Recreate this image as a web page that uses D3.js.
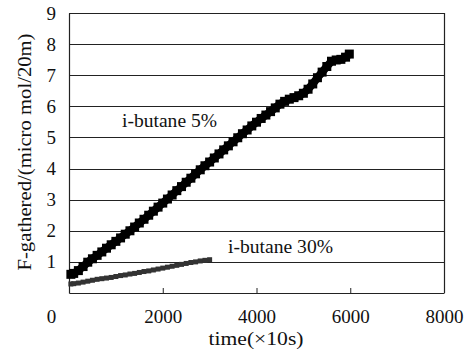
<!DOCTYPE html>
<html lang="en">
<head>
    <meta charset="UTF-8">
    <title>F-gathered vs time</title>
    <script src="https://d3js.org/d3.v7.min.js"></script>
    <style>
        body { margin: 0; background: #fff; }
        text { font-family: "Liberation Serif", "Times New Roman", serif; fill: #111; }
        .tick text { font-size: 19px; }
    </style>
</head>
<body>
    <svg id="chart"></svg>
    <script>
        // time (x10 s) and gathered values
        const time5 = [40, 100, 200, 300, 400, 500, 600, 700, 800, 900, 1000, 1100, 1200, 1300, 1400, 1500,
            1600, 1700, 1800, 1900, 2000, 2100, 2200, 2300, 2400, 2500, 2600, 2700, 2800, 2900, 3000,
            3100, 3200, 3300, 3400, 3500, 3600, 3700, 3800, 3900, 4000, 4100, 4200, 4300, 4400, 4500,
            4600, 4700, 4800, 4900, 5000, 5100, 5200, 5300, 5400, 5500, 5600, 5700, 5800, 5900, 5980];
        const butane5 = [0.60, 0.63, 0.72, 0.85, 0.99, 1.10, 1.21, 1.32, 1.44, 1.55, 1.66, 1.77, 1.89, 2.00, 2.12, 2.25,
            2.37, 2.50, 2.63, 2.76, 2.89, 3.02, 3.15, 3.29, 3.42, 3.56, 3.69, 3.83, 3.96, 4.09, 4.21,
            4.34, 4.47, 4.60, 4.73, 4.86, 4.99, 5.12, 5.24, 5.37, 5.49, 5.61, 5.72, 5.83, 5.95, 6.07,
            6.16, 6.23, 6.28, 6.34, 6.42, 6.55, 6.72, 6.92, 7.10, 7.28, 7.45, 7.49, 7.51, 7.58, 7.68];

        const time30 = [40, 100, 200, 300, 400, 500, 600, 700, 800, 900, 1000, 1100, 1200, 1300, 1400, 1500,
            1600, 1700, 1800, 1900, 2000, 2100, 2200, 2300, 2400, 2500, 2600, 2700, 2800, 2900, 3000];
        const butane30 = [0.29, 0.30, 0.32, 0.35, 0.38, 0.41, 0.44, 0.46, 0.48, 0.50, 0.53, 0.56, 0.58, 0.61, 0.63, 0.66,
            0.69, 0.71, 0.74, 0.77, 0.80, 0.83, 0.86, 0.89, 0.92, 0.95, 0.98, 1.00, 1.03, 1.05, 1.07];

        const xTicks = [0, 2000, 4000, 6000, 8000];
        const yTicks = [1, 2, 3, 4, 5, 6, 7, 8, 9];

        const width = 466, height = 352;
        const margin = { top: 13, right: 22, bottom: 59, left: 69 };
        const w = width - margin.left - margin.right;
        const h = height - margin.top - margin.bottom;

        const svg = d3.select("#chart")
            .attr("width", width)
            .attr("height", height);

        const g = svg.append("g")
            .attr("transform", "translate(" + margin.left + "," + margin.top + ")");

        const x = d3.scaleLinear().domain([0, 8000]).range([0, w]);
        const y = d3.scaleLinear().domain([0, 9]).range([h, 0]);

        // horizontal grid lines
        g.selectAll(".grid")
            .data(yTicks)
            .enter().append("line")
            .attr("x1", 0).attr("x2", w)
            .attr("y1", d => Math.round(y(d)) + 0.5)
            .attr("y2", d => Math.round(y(d)) + 0.5)
            .attr("stroke", "#222")
            .attr("stroke-width", 1.2);

        // right border
        g.append("line")
            .attr("x1", w + 0.5).attr("x2", w + 0.5)
            .attr("y1", y(9)).attr("y2", h)
            .attr("stroke", "#222").attr("stroke-width", 1.2);

        // x axis (inside ticks)
        const xAxis = g.append("g")
            .attr("transform", "translate(0," + h + ")")
            .call(d3.axisBottom(x).tickValues(xTicks).tickFormat(d3.format("d"))
                .tickSizeInner(-5).tickSizeOuter(0).tickPadding(17));
        xAxis.select(".domain").attr("stroke", "#222").attr("stroke-width", 1.2);
        xAxis.selectAll(".tick line").attr("stroke", "#222");
        xAxis.selectAll(".tick text").filter(d => d === 0).attr("dx", -18);

        // y axis
        const yAxis = g.append("g")
            .call(d3.axisLeft(y).tickValues(yTicks).tickSize(0).tickPadding(13));
        yAxis.select(".domain").attr("stroke", "#222").attr("stroke-width", 1.2);

        const d30 = time30.map((t, i) => [t, butane30[i]]);
        const d5 = time5.map((t, i) => [t, butane5[i]]);
        const line = d3.line().x(d => x(d[0])).y(d => y(d[1]));

        // series 30%
        g.append("path").datum(d30)
            .attr("d", line).attr("fill", "none")
            .attr("stroke", "#333").attr("stroke-width", 3.5);
        g.selectAll(".m30").data(d30).enter().append("rect")
            .attr("x", d => x(d[0]) - 2.5).attr("y", d => y(d[1]) - 2.5)
            .attr("width", 5).attr("height", 5).attr("fill", "#333");

        // series 5%
        g.append("path").datum(d5)
            .attr("d", line).attr("fill", "none")
            .attr("stroke", "#000").attr("stroke-width", 8);
        g.selectAll(".m5").data(d5).enter().append("rect")
            .attr("x", d => x(d[0]) - 4.5).attr("y", d => y(d[1]) - 4.5)
            .attr("width", 9).attr("height", 9).attr("fill", "#000");

        // series labels
        svg.append("text").attr("x", 122).attr("y", 127)
            .attr("textLength", 95).attr("lengthAdjust", "spacingAndGlyphs")
            .style("font-size", "18px").text("i-butane 5%");
        svg.append("text").attr("x", 228).attr("y", 253)
            .attr("textLength", 105).attr("lengthAdjust", "spacingAndGlyphs")
            .style("font-size", "18px").text("i-butane 30%");

        // axis titles
        svg.append("text")
            .attr("transform", "translate(31,152) rotate(-90)")
            .attr("text-anchor", "middle")
            .attr("textLength", 237).attr("lengthAdjust", "spacingAndGlyphs")
            .style("font-size", "18px").text("F-gathered/(micro mol/20m)");
        svg.append("text")
            .attr("x", 256).attr("y", 345)
            .attr("text-anchor", "middle")
            .attr("textLength", 95).attr("lengthAdjust", "spacingAndGlyphs")
            .style("font-size", "18px").text("time(×10s)");
    </script>
</body>
</html>
